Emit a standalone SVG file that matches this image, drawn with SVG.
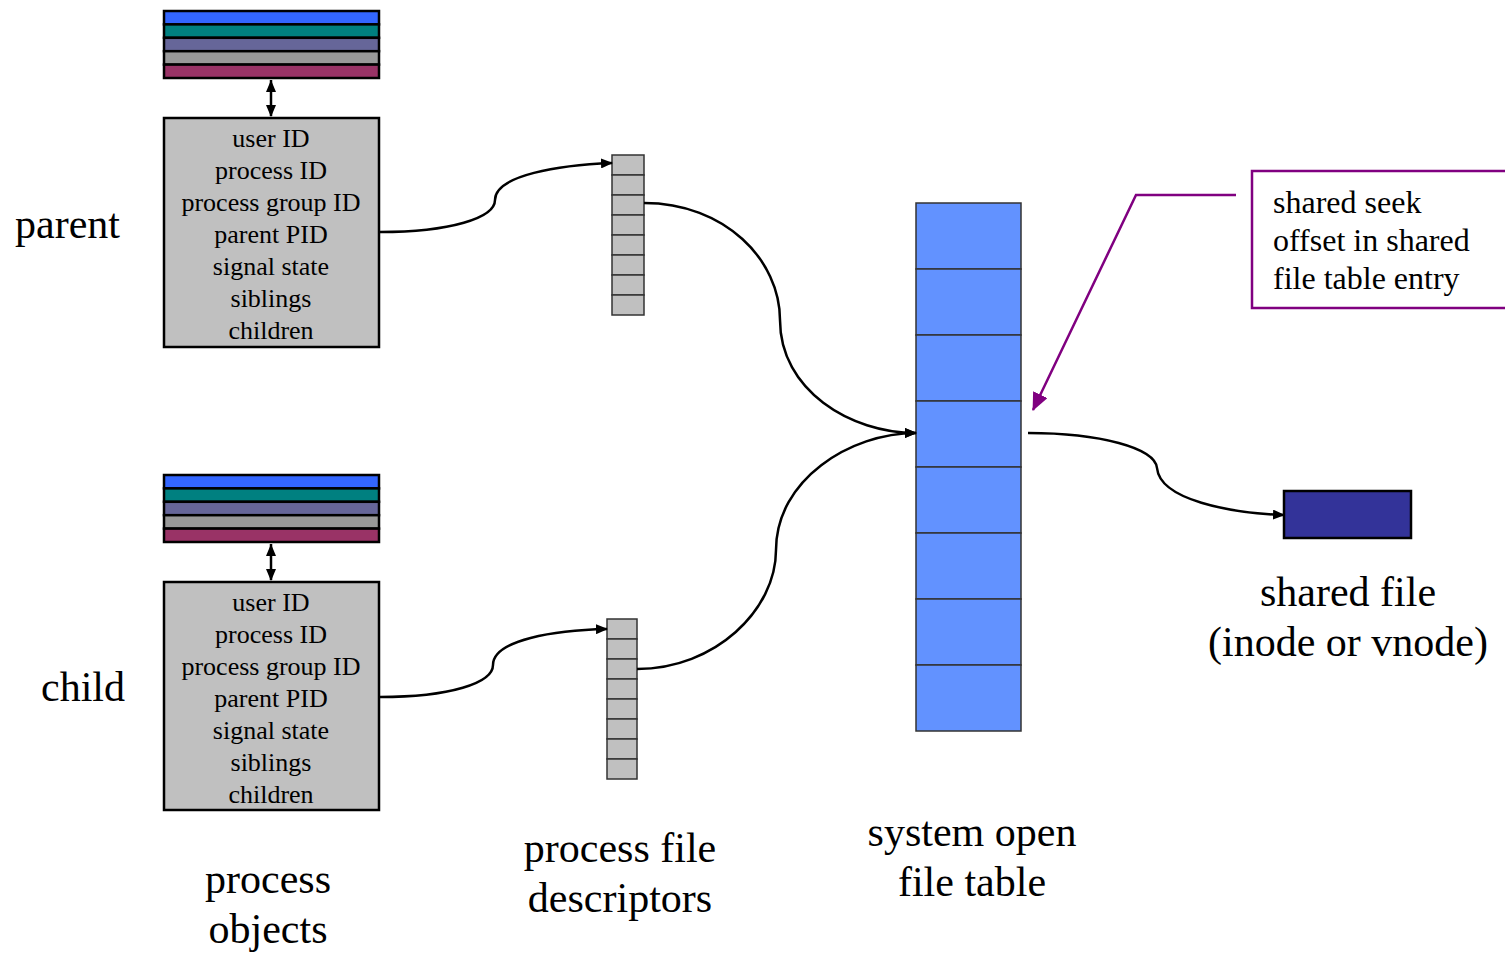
<svg xmlns="http://www.w3.org/2000/svg" width="1505" height="954" viewBox="0 0 1505 954">
<style>
.t{font-family:"Liberation Serif","Times New Roman",serif;fill:#000}
.big{font-size:42px}
.box{font-size:26px;text-anchor:middle}
.call{font-size:32px}
.stk{stroke:#000;stroke-width:2.5}
.cell{fill:#C0C0C0;stroke:#333;stroke-width:1.5}
.tab{fill:#6292FF;stroke:#333;stroke-width:1.5}
.con{fill:none;stroke:#000;stroke-width:2.5}
</style>
<defs>
<marker id="ah" markerUnits="userSpaceOnUse" markerWidth="12" markerHeight="10" refX="11" refY="5" orient="auto"><path d="M0,0 L12,5 L0,10 Z" fill="#000"/></marker>
<marker id="as" markerUnits="userSpaceOnUse" markerWidth="12" markerHeight="10" refX="0" refY="5" orient="auto"><path d="M12,0 L0,5 L12,10 Z" fill="#000"/></marker>
<marker id="ap" markerUnits="userSpaceOnUse" markerWidth="18" markerHeight="16" refX="17" refY="8" orient="auto"><path d="M0,0 L18,8 L0,16 Z" fill="#800080"/></marker>
</defs>

<text class="t big" x="15" y="238">parent</text>
<text class="t big" x="41" y="701">child</text>

<g id="parent-stack">
<rect x="164" y="11" width="215" height="13.4" fill="#3366FF" class="stk"/>
<rect x="164" y="24.4" width="215" height="13.4" fill="#008080" class="stk"/>
<rect x="164" y="37.8" width="215" height="13.4" fill="#666699" class="stk"/>
<rect x="164" y="51.2" width="215" height="13.4" fill="#999999" class="stk"/>
<rect x="164" y="64.6" width="215" height="13.4" fill="#993366" class="stk"/>
</g>
<g id="parent-box">
<rect x="164" y="118" width="215" height="229" fill="#C0C0C0" class="stk"/>
<text class="t box" x="271" y="147">user ID</text>
<text class="t box" x="271" y="179">process ID</text>
<text class="t box" x="271" y="211">process group ID</text>
<text class="t box" x="271" y="243">parent PID</text>
<text class="t box" x="271" y="275">signal state</text>
<text class="t box" x="271" y="307">siblings</text>
<text class="t box" x="271" y="339">children</text>
</g>

<g id="child-stack">
<rect x="164" y="475" width="215" height="13.4" fill="#3366FF" class="stk"/>
<rect x="164" y="488.4" width="215" height="13.4" fill="#008080" class="stk"/>
<rect x="164" y="501.8" width="215" height="13.4" fill="#666699" class="stk"/>
<rect x="164" y="515.2" width="215" height="13.4" fill="#999999" class="stk"/>
<rect x="164" y="528.6" width="215" height="13.4" fill="#993366" class="stk"/>
</g>
<g id="child-box">
<rect x="164" y="582" width="215" height="228" fill="#C0C0C0" class="stk"/>
<text class="t box" x="271" y="611">user ID</text>
<text class="t box" x="271" y="643">process ID</text>
<text class="t box" x="271" y="675">process group ID</text>
<text class="t box" x="271" y="707">parent PID</text>
<text class="t box" x="271" y="739">signal state</text>
<text class="t box" x="271" y="771">siblings</text>
<text class="t box" x="271" y="803">children</text>
</g>

<g id="parent-fd">
<rect class="cell" x="612" y="155" width="32" height="20"/>
<rect class="cell" x="612" y="175" width="32" height="20"/>
<rect class="cell" x="612" y="195" width="32" height="20"/>
<rect class="cell" x="612" y="215" width="32" height="20"/>
<rect class="cell" x="612" y="235" width="32" height="20"/>
<rect class="cell" x="612" y="255" width="32" height="20"/>
<rect class="cell" x="612" y="275" width="32" height="20"/>
<rect class="cell" x="612" y="295" width="32" height="20"/>
</g>
<g id="child-fd">
<rect class="cell" x="607" y="619" width="30" height="20"/>
<rect class="cell" x="607" y="639" width="30" height="20"/>
<rect class="cell" x="607" y="659" width="30" height="20"/>
<rect class="cell" x="607" y="679" width="30" height="20"/>
<rect class="cell" x="607" y="699" width="30" height="20"/>
<rect class="cell" x="607" y="719" width="30" height="20"/>
<rect class="cell" x="607" y="739" width="30" height="20"/>
<rect class="cell" x="607" y="759" width="30" height="20"/>
</g>

<g id="open-file-table">
<rect class="tab" x="916" y="203" width="105" height="66"/>
<rect class="tab" x="916" y="269" width="105" height="66"/>
<rect class="tab" x="916" y="335" width="105" height="66"/>
<rect class="tab" x="916" y="401" width="105" height="66"/>
<rect class="tab" x="916" y="467" width="105" height="66"/>
<rect class="tab" x="916" y="533" width="105" height="66"/>
<rect class="tab" x="916" y="599" width="105" height="66"/>
<rect class="tab" x="916" y="665" width="105" height="66"/>
</g>

<g id="shared-file">
<rect x="1284" y="491" width="127" height="47" fill="#333399" stroke="#000" stroke-width="2.5"/>
</g>

<g id="callout">
<rect x="1252" y="171" width="270" height="137" fill="#fff" stroke="#800080" stroke-width="2.5"/>
<text class="t call" x="1273" y="213">shared seek</text>
<text class="t call" x="1273" y="251">offset in shared</text>
<text class="t call" x="1273" y="289">file table entry</text>
</g>

<g id="connectors">
<line x1="271" y1="80" x2="271" y2="116" class="con" stroke-width="2" marker-start="url(#as)" marker-end="url(#ah)"/>
<line x1="271" y1="544" x2="271" y2="580" class="con" stroke-width="2" marker-start="url(#as)" marker-end="url(#ah)"/>
<path class="con" d="M380,232 C450,232 495,218 495,200 C495,175 560,165 612,163" marker-end="url(#ah)"/>
<path class="con" d="M380,697 C450,697 493,683 493,665 C493,640 555,630 607,629" marker-end="url(#ah)"/>
<path class="con" d="M644,203 C725,203 780,260 780,320 C780,390 850,433 916,433" marker-end="url(#ah)"/>
<path class="con" d="M637,669 C715,669 776,610 776,550 C776,480 850,433 916,433" marker-end="url(#ah)"/>
<path class="con" d="M1028,433 C1100,433 1155,448 1157,468 C1160,500 1230,513 1284,515" marker-end="url(#ah)"/>
<polyline points="1236,195 1136,195 1033,410" fill="none" stroke="#800080" stroke-width="2.5" marker-end="url(#ap)"/>
</g>

<text class="t big" x="1348" y="606" text-anchor="middle">shared file</text>
<text class="t big" x="1348" y="656" text-anchor="middle">(inode or vnode)</text>
<text class="t big" x="972" y="846" text-anchor="middle">system open</text>
<text class="t big" x="972" y="896" text-anchor="middle">file table</text>
<text class="t big" x="620" y="862" text-anchor="middle">process file</text>
<text class="t big" x="620" y="912" text-anchor="middle">descriptors</text>
<text class="t big" x="268" y="893" text-anchor="middle">process</text>
<text class="t big" x="268" y="943" text-anchor="middle">objects</text>
</svg>
